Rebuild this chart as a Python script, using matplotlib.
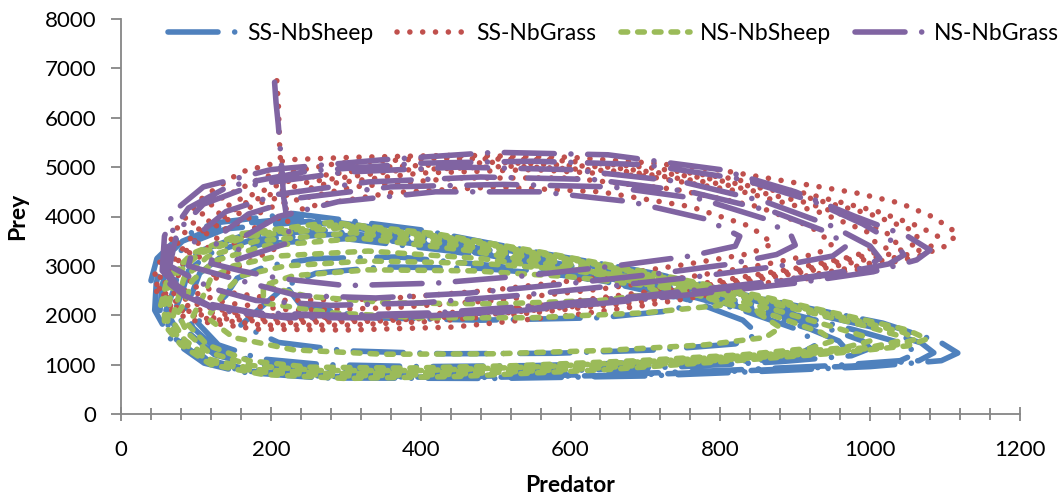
import matplotlib
matplotlib.use("Agg")
import matplotlib.pyplot as plt
from matplotlib.ticker import MultipleLocator

plt.rcParams['font.family'] = ['Lato', 'DejaVu Sans']

# ---------------- data ----------------
series_names = ["SS-NbSheep", "SS-NbGrass", "NS-NbSheep", "NS-NbGrass"]

ss_sheep_pred = [
    40, 48, 75, 125, 230, 400, 550, 710, 850, 1017, 1093, 1117, 1095, 1000, 850, 700, 500, 267, 160, 111, 67, 45,
    47, 55, 82, 132, 240, 400, 550, 705, 850, 1000, 1068, 1085, 1065, 975, 825, 675, 475, 275, 165, 113, 73, 52,
    55, 62, 90, 140, 250, 400, 550, 700, 850, 980, 1045, 1062, 1040, 950, 800, 650, 450, 280, 170, 115, 80, 60,
    70, 78, 105, 160, 270, 420, 560, 700, 830, 940, 990, 1000, 975, 880, 750, 600, 420, 270, 180, 125, 90, 72,
    82, 90, 118, 175, 285, 430, 570, 710, 830, 920, 958, 965, 940, 855, 725, 575, 410, 270, 182, 128, 96, 84,
    95, 105, 135, 190, 300, 440, 580, 720, 830, 905, 930, 910, 830, 700, 550, 400, 270, 185, 130, 102,
    140, 155, 195, 260, 370, 500, 640, 760, 830, 850, 820, 720, 580, 430, 300, 210, 160,
    220, 260, 350, 480, 600, 700, 760, 740, 640, 480, 330, 240, 220]
ss_sheep_prey = [
    2700, 3150, 3550, 3870, 4060, 3730, 3290, 2855, 2350, 1840, 1460, 1235, 1080, 960, 860, 770, 720, 730, 850, 1030, 1500, 2100,
    2650, 3100, 3500, 3810, 3980, 3650, 3220, 2780, 2280, 1770, 1440, 1240, 1080, 970, 870, 785, 740, 760, 870, 1060, 1520, 2100,
    2600, 3050, 3450, 3750, 3900, 3580, 3150, 2700, 2200, 1700, 1420, 1230, 1080, 980, 880, 800, 760, 790, 900, 1100, 1550, 2100,
    2500, 2950, 3300, 3600, 3720, 3450, 3050, 2650, 2200, 1750, 1480, 1330, 1180, 1060, 960, 880, 840, 870, 980, 1200, 1650, 2100,
    2480, 2900, 3250, 3530, 3640, 3380, 3000, 2600, 2150, 1720, 1480, 1360, 1210, 1090, 1000, 930, 900, 930, 1050, 1300, 1750, 2200,
    2450, 2850, 3200, 3450, 3550, 3300, 2950, 2550, 2100, 1700, 1420, 1250, 1130, 1040, 980, 960, 1000, 1120, 1400, 1850,
    2400, 2750, 3000, 3150, 3180, 3000, 2700, 2300, 1900, 1620, 1420, 1300, 1230, 1220, 1280, 1450, 1800,
    2600, 2850, 2980, 2950, 2800, 2550, 2300, 2100, 1950, 1900, 1950, 2200, 2600]

ss_grass_pred = [
    208, 210, 211, 212, 215, 220, 226,
    120, 135, 175, 250, 360, 500, 640, 760, 840, 870, 840, 750, 630, 490, 350, 220, 150,
    90, 105, 140, 210, 310, 450, 600, 740, 850, 920, 950, 930, 860, 760, 640, 500, 360, 230, 140, 100,
    70, 85, 120, 180, 270, 400, 550, 700, 830, 930, 995, 1010, 980, 900, 800, 690, 560, 420, 280, 170, 105, 75,
    62, 77, 110, 165, 250, 375, 525, 675, 805, 915, 990, 1030, 1035, 1000, 925, 825, 715, 590, 450, 310, 190, 112, 70,
    55, 70, 100, 150, 230, 350, 500, 650, 780, 900, 1000, 1060, 1065, 1030, 950, 850, 740, 620, 480, 340, 210, 120, 75,
    48, 62, 88, 125, 190, 290, 420, 570, 700, 810, 910, 1010, 1065, 1090, 1085, 1048, 970, 880, 790, 680, 550, 420, 300, 190, 105, 65, 50,
    42, 55, 76, 110, 160, 223, 311, 450, 600, 710, 800, 862, 982, 1040, 1084, 1116, 1104, 1062, 982, 900, 800, 700, 600, 443, 300, 180, 93, 55, 42]
ss_grass_prey = [
    6750, 6300, 5800, 5300, 4800, 4200, 3500,
    2700, 3250, 3750, 4200, 4480, 4600, 4500, 4200, 3800, 3450, 3250, 3020, 2750, 2500, 2330, 2300, 2450,
    2600, 3200, 3750, 4250, 4600, 4780, 4780, 4550, 4200, 3800, 3450, 3250, 3030, 2780, 2530, 2300, 2150, 2100, 2250, 2450,
    2550, 3150, 3750, 4250, 4650, 4880, 4950, 4820, 4500, 4100, 3700, 3420, 3200, 2950, 2700, 2450, 2200, 2030, 1960, 2000, 2200, 2400,
    2530, 3120, 3720, 4270, 4700, 4940, 5020, 4910, 4650, 4280, 3900, 3600, 3450, 3230, 2970, 2710, 2450, 2210, 2020, 1920, 1920, 2070, 2300,
    2500, 3100, 3700, 4300, 4750, 5000, 5100, 5000, 4780, 4450, 4050, 3700, 3480, 3250, 2980, 2720, 2450, 2200, 2000, 1880, 1850, 1950, 2150,
    2600, 3150, 3740, 4300, 4800, 5080, 5180, 5150, 5000, 4780, 4480, 4100, 3800, 3600, 3420, 3220, 2950, 2700, 2480, 2250, 2050, 1880, 1800, 1800, 1950, 2200, 2600,
    2700, 3200, 3790, 4400, 4900, 5150, 5200, 5240, 5200, 5080, 4940, 4780, 4475, 4270, 3990, 3665, 3420, 3180, 2920, 2700, 2450, 2200, 2000, 1760, 1700, 1720, 1900, 2200, 2700]

ns_sheep_pred = [
    53, 62, 95, 160, 280, 420, 560, 700, 850, 980, 1050, 1076, 1050, 960, 820, 650, 450, 300, 190, 120, 80, 58,
    58, 66, 100, 165, 290, 435, 580, 725, 865, 985, 1045, 1060, 1028, 930, 790, 625, 435, 290, 185, 120, 82, 62,
    65, 72, 105, 170, 300, 450, 600, 750, 880, 990, 1035, 1040, 1000, 900, 760, 600, 420, 280, 180, 120, 85, 68,
    75, 84, 115, 180, 310, 460, 610, 755, 875, 960, 995, 1000, 965, 865, 725, 565, 400, 265, 175, 117, 88, 76,
    85, 95, 125, 190, 320, 470, 620, 760, 870, 935, 950, 920, 830, 690, 530, 380, 250, 170, 115, 90,
    110, 120, 150, 210, 330, 480, 630, 760, 850, 880, 860, 780, 650, 500, 350, 230, 150, 115,
    140, 160, 220, 330, 480, 620, 740, 810, 800, 700, 550, 400, 280, 190,
    190, 230, 330, 470, 600, 700, 720, 640, 500, 360, 250, 190]
ns_sheep_prey = [
    2200, 2750, 3250, 3650, 3880, 3650, 3280, 2880, 2400, 1950, 1700, 1520, 1380, 1240, 1080, 900, 760, 720, 800, 1000, 1400, 1800,
    2250, 2780, 3250, 3620, 3830, 3580, 3190, 2760, 2300, 1880, 1650, 1510, 1370, 1230, 1080, 920, 800, 770, 850, 1050, 1450, 1850,
    2300, 2800, 3250, 3600, 3780, 3500, 3100, 2650, 2200, 1800, 1600, 1480, 1350, 1220, 1080, 950, 840, 820, 900, 1100, 1500, 1900,
    2280, 2750, 3180, 3500, 3670, 3400, 3000, 2550, 2100, 1720, 1560, 1480, 1340, 1210, 1080, 960, 880, 880, 980, 1250, 1650, 2050,
    2250, 2700, 3100, 3400, 3560, 3300, 2900, 2450, 2000, 1650, 1480, 1330, 1200, 1080, 980, 930, 950, 1080, 1400, 1800,
    2400, 2750, 3000, 3200, 3300, 3150, 2850, 2450, 2050, 1750, 1550, 1400, 1290, 1220, 1210, 1300, 1550, 1950,
    2500, 2800, 3000, 3100, 3050, 2900, 2650, 2400, 2200, 2050, 1950, 1950, 2050, 2250,
    2600, 2800, 2920, 2900, 2780, 2600, 2450, 2300, 2230, 2250, 2380, 2600]

ns_grass_pred = [
    205, 207, 210, 213, 217, 226,
    150, 165, 210, 290, 420, 560, 680, 780, 826, 820, 760, 660, 540, 420, 300, 210, 160,
    120, 130, 170, 240, 360, 510, 655, 775, 860, 895, 900, 875, 810, 710, 590, 465, 340, 235, 160,
    90, 100, 140, 210, 330, 480, 630, 760, 870, 940, 970, 950, 880, 780, 660, 530, 400, 280, 180, 120,
    65, 75, 110, 180, 300, 450, 600, 750, 860, 950, 1000, 1013, 990, 920, 820, 700, 560, 420, 290, 180, 110, 75,
    60, 66, 90, 145, 250, 400, 550, 700, 830, 925, 990, 1035, 1045, 1025, 960, 860, 740, 610, 470, 330, 200, 120, 80,
    55, 58, 70, 110, 200, 350, 500, 650, 800, 900, 980, 1050, 1080, 1062, 1004, 900, 780, 650, 500, 350, 220, 130, 84, 60]
ns_grass_prey = [
    6720, 6300, 5850, 5300, 4400, 3480,
    3100, 3600, 4000, 4300, 4500, 4500, 4300, 3950, 3600, 3400, 3200, 3000, 2800, 2650, 2600, 2750, 2900,
    3050, 3600, 4050, 4380, 4600, 4650, 4600, 4350, 3950, 3600, 3420, 3230, 3030, 2830, 2630, 2450, 2350, 2400, 2700,
    3000, 3600, 4100, 4450, 4700, 4800, 4750, 4500, 4100, 3700, 3420, 3200, 3000, 2800, 2600, 2400, 2250, 2200, 2300, 2550,
    3000, 3700, 4250, 4650, 4900, 5000, 4950, 4700, 4300, 3800, 3400, 3150, 2950, 2780, 2600, 2400, 2200, 2050, 2000, 2050, 2250, 2600,
    2950, 3650, 4170, 4620, 4920, 5080, 5120, 5050, 4750, 4300, 3850, 3450, 3220, 3040, 2850, 2640, 2430, 2220, 2040, 1980, 2000, 2180, 2500,
    2900, 3600, 4100, 4600, 4950, 5150, 5300, 5250, 4950, 4500, 4000, 3600, 3320, 3120, 2880, 2650, 2450, 2250, 2050, 1950, 1950, 2100, 2400, 2700]

x_ticks = [0, 200, 400, 600, 800, 1000, 1200]
y_ticks = [0, 1000, 2000, 3000, 4000, 5000, 6000, 7000, 8000]

# ---------------- figure ----------------
W, H = 1063, 497
fig = plt.figure(figsize=(W / 100, H / 100), dpi=100)
ax = fig.add_axes([121 / W, 83 / H, 899 / W, 395 / H])

lw = 4.0
blue, red, green, purple = "#4F81BD", "#C0504D", "#9BBB59", "#8064A2"
dashdot = (0, (9, 3, 0.01, 3))

l1, = ax.plot(ss_sheep_pred, ss_sheep_prey, color=blue, lw=lw,
              linestyle=dashdot, dash_capstyle="round",
              label=series_names[0])
l2, = ax.plot(ss_grass_pred, ss_grass_prey, color=red, lw=lw,
              linestyle=(0, (0.01, 2.3)), dash_capstyle="round",
              label=series_names[1])
l3, = ax.plot(ns_sheep_pred, ns_sheep_prey, color=green, lw=lw,
              linestyle=(0, (1.2, 1.8)), dash_capstyle="round",
              label=series_names[2])
l4, = ax.plot(ns_grass_pred, ns_grass_prey, color=purple, lw=lw,
              linestyle=dashdot, dash_capstyle="round",
              label=series_names[3])

ax.set_xlim(x_ticks[0], x_ticks[-1])
ax.set_ylim(y_ticks[0], y_ticks[-1])
ax.set_xticks(x_ticks)
ax.set_yticks(y_ticks)
ax.xaxis.set_minor_locator(MultipleLocator(40))

axis_col = "#868686"
for s in ("top", "right"):
    ax.spines[s].set_visible(False)
for s in ("left", "bottom"):
    ax.spines[s].set_color(axis_col)
    ax.spines[s].set_linewidth(1.3)

ax.tick_params(axis="y", which="major", direction="out", length=7, width=1.3,
               color=axis_col, labelsize=16, pad=11, labelcolor="black")
ax.tick_params(axis="x", which="major", direction="inout", length=10, width=1.3,
               color=axis_col, labelsize=16, pad=14, labelcolor="black")
ax.tick_params(axis="x", which="minor", direction="inout", length=8, width=1.3,
               color=axis_col)

fig.text(18 / W, 1 - 216 / H, "Prey", rotation=90, ha="center", va="center",
         fontsize=16.5, fontweight="bold")
fig.text(570 / W, 1 - 485 / H, "Predator", ha="center", va="center",
         fontsize=16.5, fontweight="bold")

fig.legend(handles=[l1, l2, l3, l4], loc="center left",
           bbox_to_anchor=(168 / W, 1 - 34 / H), bbox_transform=fig.transFigure,
           ncol=4, frameon=False, fontsize=16.5, handlelength=3.05,
           handletextpad=0.4, columnspacing=1.05, borderpad=0, borderaxespad=0)

fig.savefig("out.png", dpi=100)
